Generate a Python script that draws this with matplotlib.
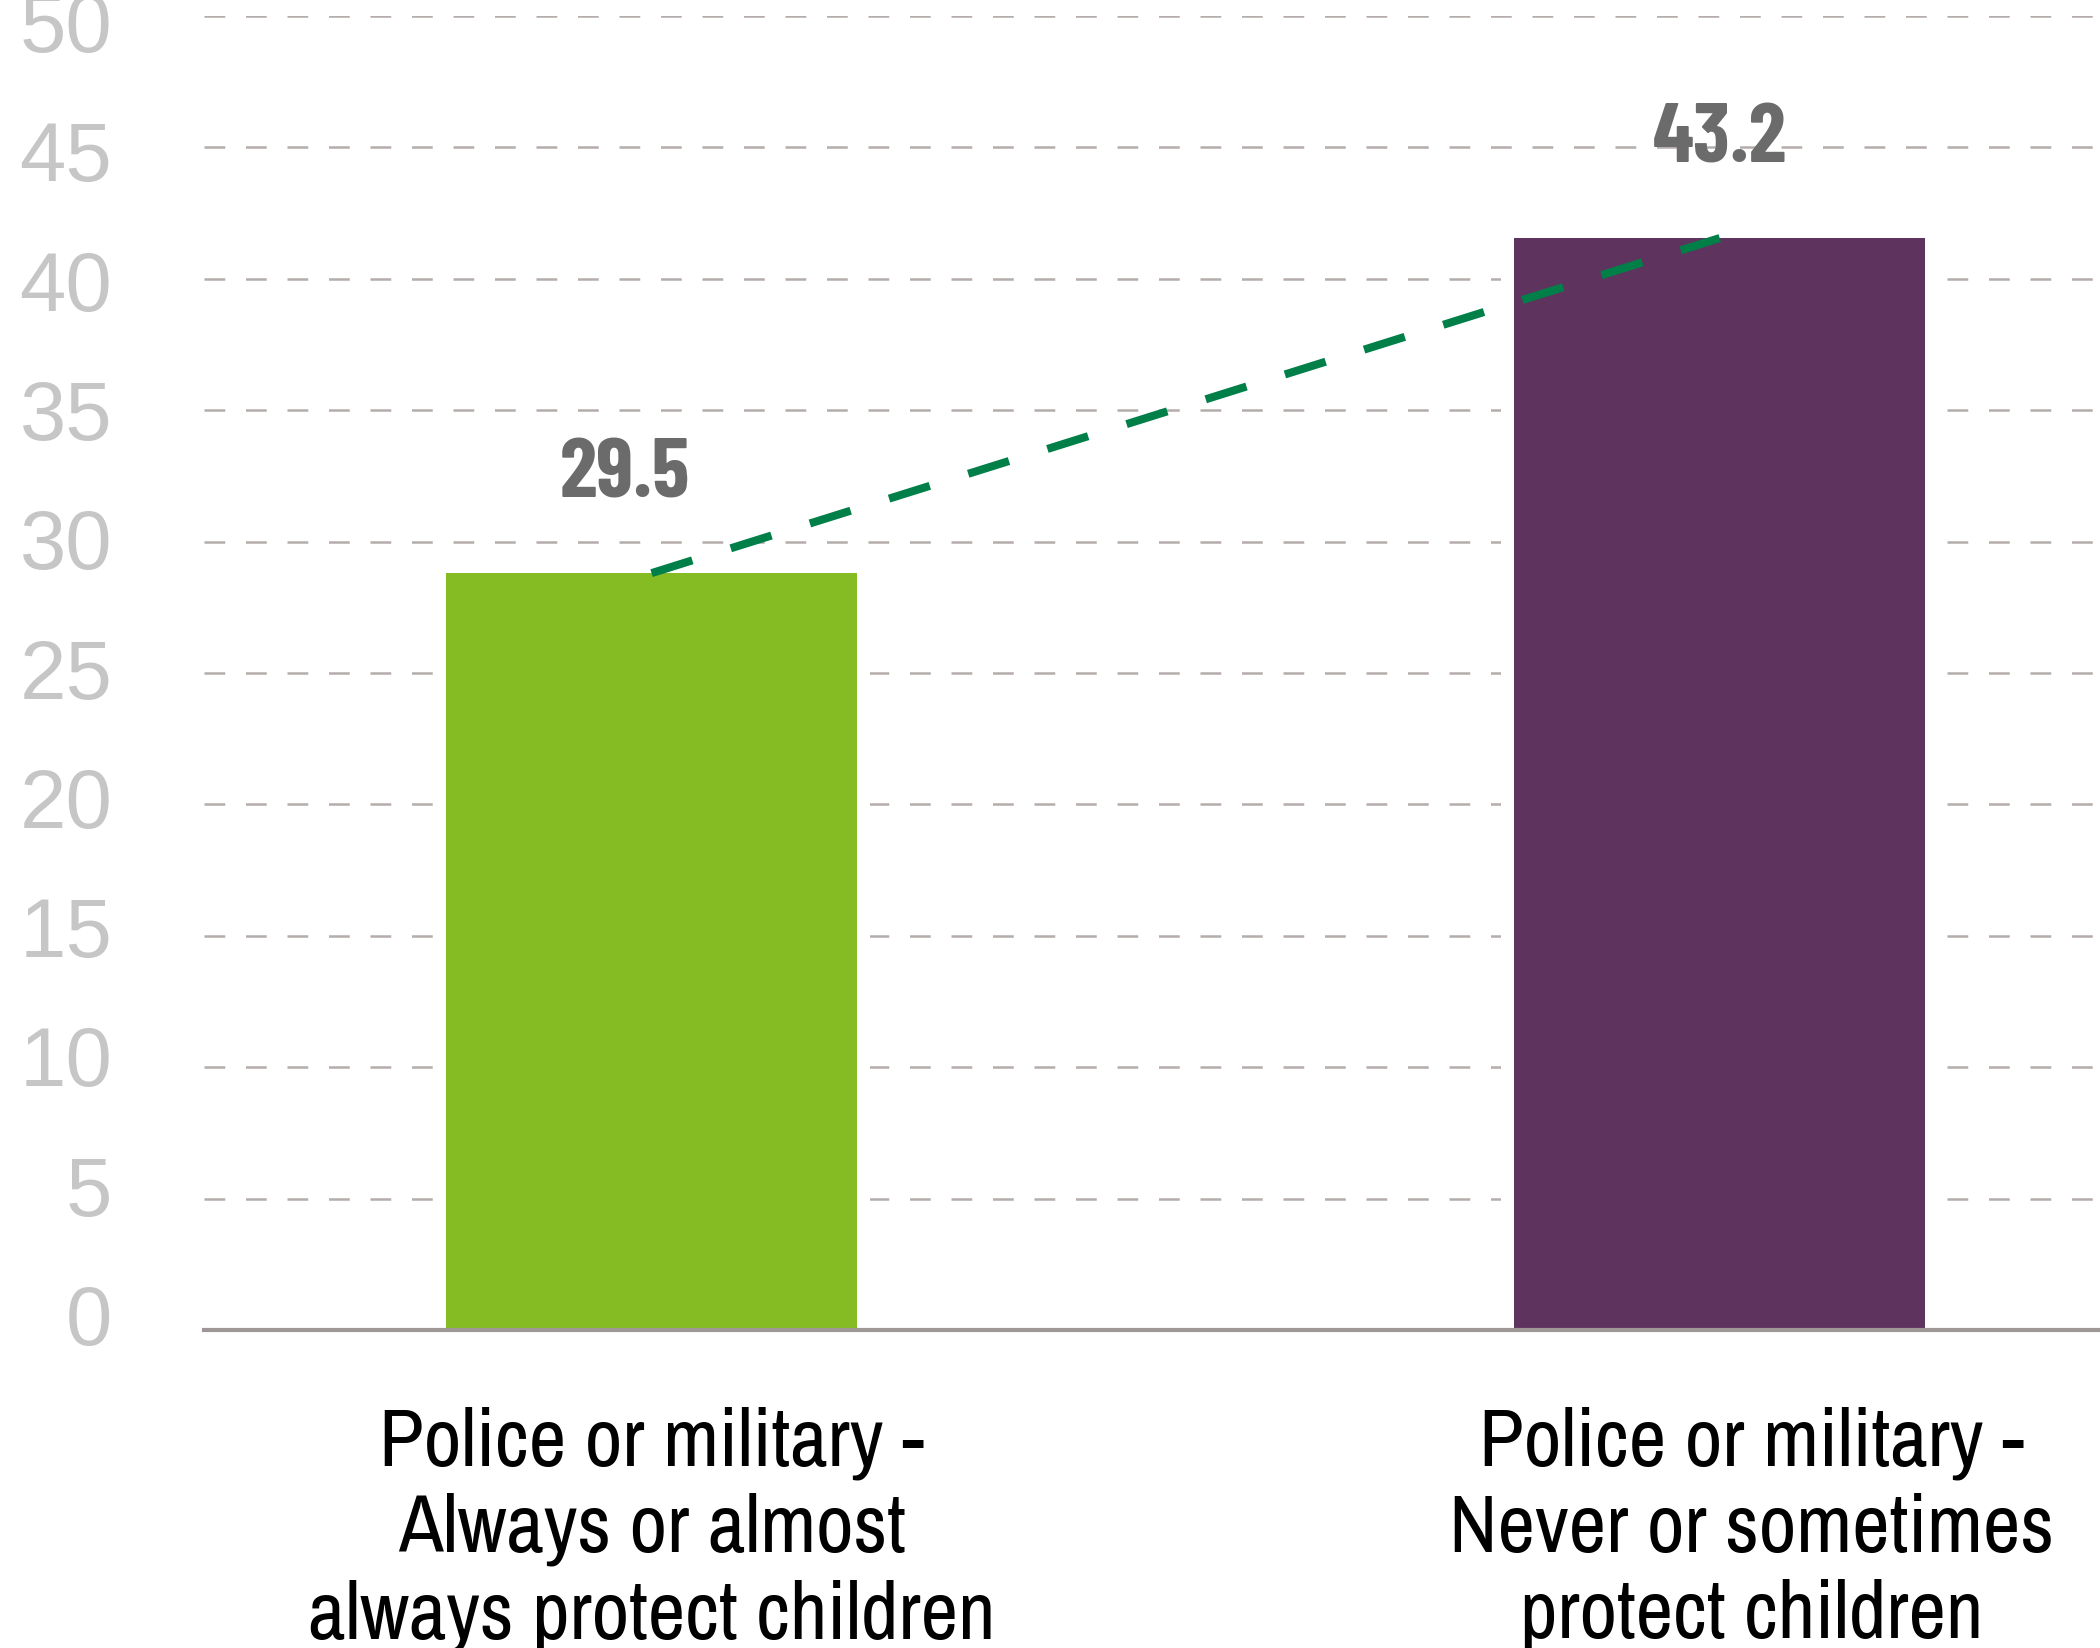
import matplotlib
matplotlib.use("Agg")
import matplotlib.pyplot as plt
from matplotlib.transforms import ScaledTranslation

# values as drawn in the picture (bar tops) and the printed labels
categories = [
    "Police or military -\nAlways or almost\nalways protect children",
    "Police or military -\nNever or sometimes\nprotect children",
]
bar_heights = [28.8, 41.55]
value_labels = ["29.5", "43.2"]
bar_colors = ["#86bc23", "#5e345e"]
y_ticks = [0, 5, 10, 15, 20, 25, 30, 35, 40, 45, 50]

narrow = ["Archivo Narrow", "Liberation Sans", "DejaVu Sans"]
narrow_bold = ["Barlow Condensed", "Roboto Condensed", "Archivo Narrow", "DejaVu Sans"]

fig = plt.figure(figsize=(21, 16.48), dpi=100)
ax = fig.add_axes([204 / 2100, (1648 - 1330) / 1648, 1 - 204 / 2100, (1330 - 16) / 1648])

x = list(range(len(categories)))
width = 0.385
gap = 0.012

# white backing so the dashed grid stops a little short of each bar
ax.bar(x, bar_heights, width=width + 2 * gap, color="white", zorder=1.5)
ax.bar(x, bar_heights, width=width, color=bar_colors, zorder=2)

# trend line joining the bar tops
ax.plot(x, bar_heights, color="#007f48", lw=5.8, linestyle=(0, (5.3, 5.0)),
        dash_capstyle="butt", zorder=3)

label_dx = [-0.025, 0.0]
for xi, h, lab, dx in zip(x, bar_heights, value_labels, label_dx):
    ax.text(xi + dx, h + 2.87, lab, ha="center", va="baseline",
            fontsize=61, fontweight="bold", color="#6b6b6b", family=narrow_bold)

ax.set_xlim(-0.419, 1.356)
ax.set_ylim(0, 50)
ax.set_yticks(y_ticks)
ax.set_yticklabels([str(t) for t in y_ticks], family=["Liberation Sans", "DejaVu Sans"],
                   fontsize=60, color="#c6c6c6")
ax.tick_params(axis="y", length=0, pad=66)
# the printed scale is squeezed slightly toward the middle of the axis
for t, lab in zip(y_ticks, ax.get_yticklabels()):
    shift = (5 + (25 - t) / 25 * 10.7) / 100
    lab.set_transform(lab.get_transform() + ScaledTranslation(0, shift, fig.dpi_scale_trans))

ax.set_xticks([0, 1.03])
ax.set_xticklabels(categories, family=narrow, fontsize=59, color="black", linespacing=1.22)
ax.tick_params(axis="x", length=0, pad=55)

ax.set_axisbelow(True)
ax.yaxis.grid(True, color="#b4adab", lw=1.8, linestyle=(0, (8.3, 8.3)))
ax.xaxis.grid(False)

for side in ["top", "right", "left"]:
    ax.spines[side].set_visible(False)
ax.spines["bottom"].set_color("#9d9797")
ax.spines["bottom"].set_linewidth(3)

fig.savefig("out.png", dpi=100)
